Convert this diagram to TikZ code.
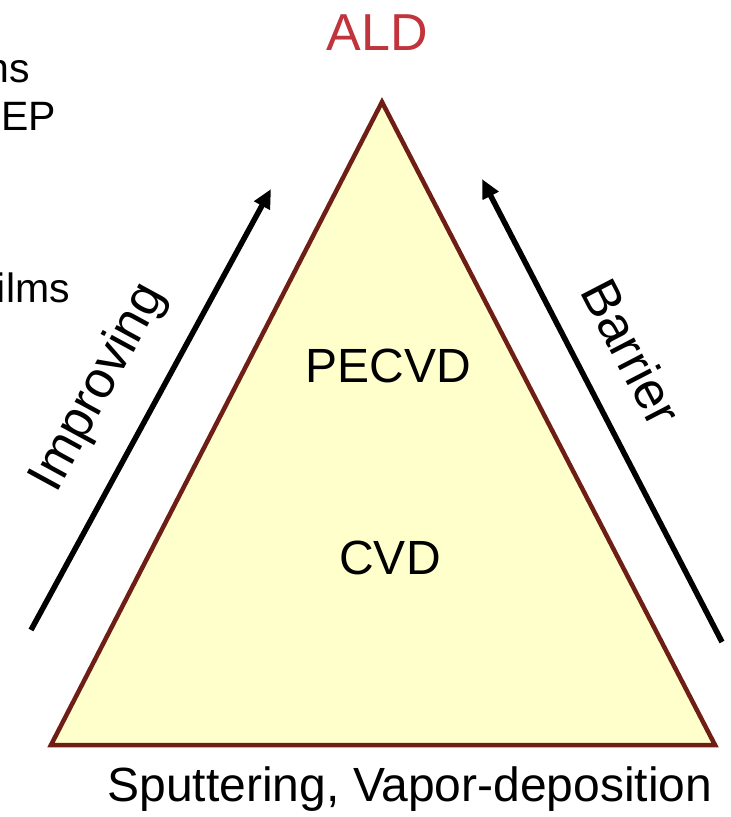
\documentclass[tikz,border=0pt]{standalone}
\usepackage{fontspec}
\setmainfont{Liberation Sans}
\usetikzlibrary{arrows.meta}
\definecolor{tribrown}{HTML}{6E1E14}
\definecolor{trifill}{HTML}{FFFFCC}
\definecolor{aldred}{HTML}{C0343C}
\tikzset{
  lbl/.style={inner sep=0pt, font=\fontsize{48}{48}\selectfont, text=black},
  sidelbl/.style={inner sep=0pt, font=\fontsize{52}{52}\selectfont, text=black},
  cutlbl/.style={inner sep=0pt, font=\fontsize{41}{41}\selectfont, text=black, anchor=base east},
  bigarrow/.style={line width=5.5pt, -{Triangle[length=19pt,width=17pt]}},
}
\begin{document}
\begin{tikzpicture}[x=1pt,y=-1pt]
\useasboundingbox (0,0) rectangle (731,817);
\clip (0,0) rectangle (731,817);
% triangle
\coordinate (apex) at (382,102);
\coordinate (bl) at (51,745);
\coordinate (br) at (715,745);
\filldraw[fill=trifill, draw=tribrown, line width=4.5pt, line join=miter] (apex) -- (br) -- (bl) -- cycle;
% labels
\node[lbl, anchor=base, text=aldred, font=\fontsize{52}{52}\selectfont] (ald) at (377,50) {ALD};
\node[lbl, anchor=base] (pecvd) at (388,382) {PECVD};
\node[lbl, anchor=base] (cvd) at (390,574) {CVD};
\node[lbl, anchor=base] (sput) at (410,801) {Sputtering, Vapor-deposition};
% cut-off text at left edge
\node[cutlbl] (ns) at (30,82) {ns};
\node[cutlbl] (ep) at (56,130) {EP};
\node[cutlbl] (ilms) at (70,302) {ilms};
% arrows
\coordinate (la0) at (31,630);
\coordinate (la1) at (271,189);
\coordinate (ra0) at (722,642);
\coordinate (ra1) at (482,179);
\draw[bigarrow] (la0) -- (la1);
\draw[bigarrow] (ra0) -- (ra1);
\node[sidelbl, rotate=61.4] (impr) at (99,388) {Improving};
\node[sidelbl, rotate=-62.6] (barr) at (632,352) {Barrier};
\end{tikzpicture}
\end{document}
